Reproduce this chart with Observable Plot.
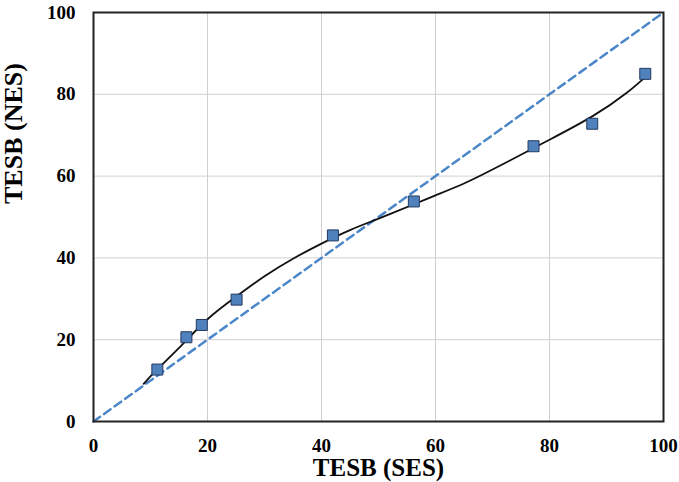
<!DOCTYPE html>
<html>
<head>
<meta charset="utf-8">
<script src="https://cdn.jsdelivr.net/npm/d3@7"></script>
<script src="https://cdn.jsdelivr.net/npm/@observablehq/plot@0.6"></script>
<style>
  html, body { margin: 0; padding: 0; background: #fff; }
</style>
</head>
<body>
<div id="chart"></div>
<script>
// Observed data (TESB SES vs TESB NES)
const sesValues = [11.2, 16.3, 19.0, 25.1, 42.0, 56.2, 77.2, 87.5, 96.8];
const nesValues = [12.7, 20.6, 23.6, 29.8, 45.5, 53.8, 67.3, 72.8, 85.0];

// Trend curve
const curveX = [8.8, 11, 15, 20, 25, 30, 35, 40, 45, 50, 56, 60, 65, 70, 77, 80, 87.5, 93.5, 96.8];
const curveY = [9.2, 12.5, 18, 25, 30.5, 35.5, 39.8, 43.5, 46.8, 49.6, 53, 55.3, 58.2, 61.6, 66.7, 68.9, 74.6, 80.3, 84.2];

// 1:1 reference line
const refX = [0, 100];
const refY = [0, 100];

const ticks = [0, 20, 40, 60, 80, 100];
const xLabel = "TESB (SES)";
const yLabel = "TESB (NES)";

const points = sesValues.map((x, i) => ({x, y: nesValues[i]}));
const curve = curveX.map((x, i) => ({x, y: curveY[i]}));
const ref = refX.map((x, i) => ({x, y: refY[i]}));

const chart = Plot.plot({
  width: 679,
  height: 482,
  marginLeft: 93,
  marginRight: 16,
  marginTop: 12,
  marginBottom: 61,
  style: {fontFamily: "'Liberation Serif', 'Times New Roman', serif", fontSize: "19px", fontWeight: "bold", color: "#000", background: "#fff"},
  x: {domain: [0, 100], ticks: ticks, tickSize: 0, tickPadding: 17, label: null},
  y: {domain: [0, 100], ticks: ticks, tickSize: 0, tickPadding: 18, label: null},
  marks: [
    Plot.gridX(ticks, {stroke: "#d0d0d0", strokeOpacity: 1, strokeWidth: 1}),
    Plot.gridY(ticks, {stroke: "#d0d0d0", strokeOpacity: 1, strokeWidth: 1}),
    Plot.line(ref, {x: "x", y: "y", stroke: "#4a86c8", strokeWidth: 2.5, strokeDasharray: "8,5"}),
    Plot.line(curve, {x: "x", y: "y", stroke: "#111", strokeWidth: 1.8, curve: "natural"}),
    Plot.dot(points, {x: "x", y: "y", symbol: "square", r: 6.2, fill: "#4f81bd", stroke: "#23395d", strokeWidth: 1}),
    Plot.frame({stroke: "#222", strokeWidth: 2}),
    Plot.text([xLabel], {frameAnchor: "bottom", lineAnchor: "top", dy: 37, fontSize: 25, fontWeight: "bold"}),
    Plot.text([yLabel], {frameAnchor: "left", rotate: -90, dx: -80, dy: -13, fontSize: 26, fontWeight: "bold"})
  ]
});
document.getElementById("chart").appendChild(chart);
</script>
</body>
</html>
